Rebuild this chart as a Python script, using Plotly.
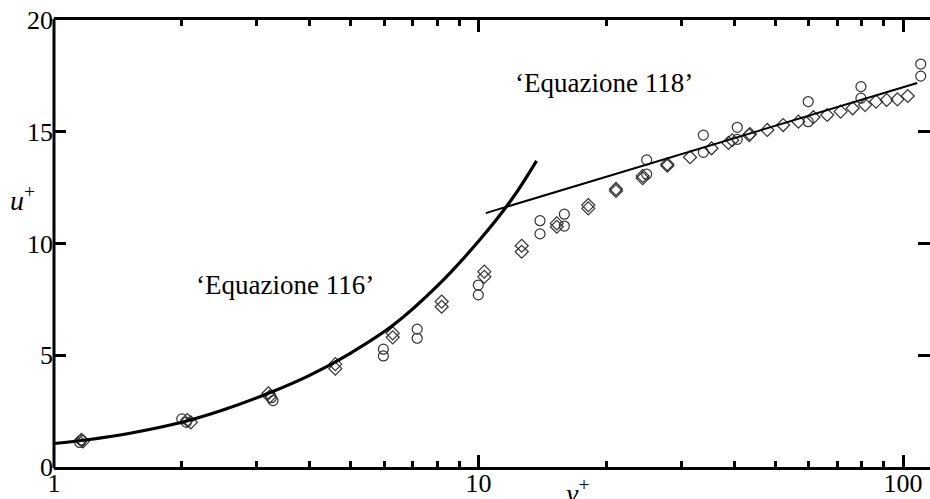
import plotly.graph_objects as go

# Equazione 116 (viscous sublayer curve)
eq116_x = [1.0, 1.2, 1.5, 2.0, 2.5, 3.2, 4.0, 5.0, 6.3, 8.0, 10.0, 12.0, 13.7]
eq116_y = [1.05, 1.22, 1.5, 2.0, 2.55, 3.3, 4.1, 5.1, 6.35, 8.1, 10.1, 12.0, 13.7]

# Equazione 118 (log law)
eq118_x = [10.4, 108.0]
eq118_y = [11.36, 17.18]

# circle markers
circ_x = [1.15, 1.16, 2.0, 2.05, 3.25, 3.28, 5.97, 5.97, 7.17, 7.17, 9.99, 9.99,
          13.96, 13.96, 15.93, 15.93, 24.9, 24.9, 33.86, 33.86, 40.7, 40.7,
          59.8, 59.8, 79.6, 79.6, 110.1, 110.1]
circ_y = [1.1, 1.2, 2.15, 2.0, 3.1, 2.97, 5.27, 4.97, 6.17, 5.76, 8.14, 7.70,
          11.02, 10.43, 11.31, 10.78, 13.74, 13.10, 14.85, 14.08, 15.2, 14.66,
          16.35, 15.45, 17.02, 16.50, 18.03, 17.49]

# diamond markers
diam_x = [1.16, 1.17, 2.06, 2.1, 3.2, 3.22, 4.6, 4.6, 6.28, 6.28, 8.19, 8.19,
          10.32, 10.32, 12.64, 12.64, 15.29, 15.29, 18.14, 18.14, 21.08, 21.08,
          24.36, 24.36, 27.85, 27.85, 31.5, 35.4, 38.8, 39.6, 43.4, 43.6, 47.9,
          52.2, 56.7, 61.5, 66.3, 71.3, 76.1, 81.4, 86.4, 91.5, 97.0, 102.6]
diam_y = [1.22, 1.15, 2.1, 2.0, 3.3, 3.15, 4.6, 4.4, 5.98, 5.80, 7.40, 7.17,
          8.74, 8.51, 9.90, 9.63, 10.90, 10.75, 11.72, 11.57, 12.44, 12.35,
          13.02, 12.92, 13.48, 13.55, 13.86, 14.26, 14.5, 14.62, 14.85, 14.9, 15.08,
          15.30, 15.45, 15.65, 15.75, 15.90, 16.05, 16.20, 16.35, 16.42, 16.45, 16.60]

y_ticks = [0, 5, 10, 15, 20]
x_ticks = [1, 10, 100]

FONT = "Liberation Serif"
mk_line = dict(color="#333333", width=1.2)

fig = go.Figure()
fig.add_trace(go.Scatter(x=circ_x, y=circ_y, mode="markers",
                         marker=dict(symbol="circle-open", size=10, line=mk_line, color="#333333")))
fig.add_trace(go.Scatter(x=diam_x, y=diam_y, mode="markers",
                         marker=dict(symbol="diamond-open", size=10, line=mk_line, color="#333333")))
fig.add_trace(go.Scatter(x=eq116_x, y=eq116_y, mode="lines",
                         line=dict(color="black", width=3.2, shape="spline")))
fig.add_trace(go.Scatter(x=eq118_x, y=eq118_y, mode="lines",
                         line=dict(color="black", width=2)))

fig.update_layout(
    width=930, height=499,
    margin=dict(l=54, r=0, t=20, b=32),
    paper_bgcolor="white", plot_bgcolor="white",
    showlegend=False,
    font=dict(family=FONT, size=26, color="black"),
    xaxis=dict(type="log", range=[0, 2.0636], automargin=False,
               tickvals=x_ticks, ticktext=[str(v) for v in x_ticks],
               ticks="inside", ticklen=12, tickwidth=2.5, tickcolor="black",
               ticklabelstandoff=-9,
               showline=True, linewidth=3, linecolor="black", mirror="allticks",
               showgrid=False, zeroline=False,
               minor=dict(ticks="inside", ticklen=6, tickwidth=2.5, tickcolor="black",
                          dtick="D1", showgrid=False),
               tickfont=dict(family=FONT, size=26)),
    yaxis=dict(range=[0, 20], tickvals=y_ticks, automargin=False,
               ticks="inside", ticklen=12, tickwidth=2.5, tickcolor="black",
               showline=False, mirror="ticks",
               showgrid=False, zeroline=False,
               tickfont=dict(family=FONT, size=26)),
    shapes=[dict(type="line", xref="paper", yref="paper", x0=0, x1=0, y0=-0.003, y1=1.003,
                 line=dict(color="black", width=3))],
    annotations=[
        dict(x=0.543, y=8.14, xref="x", yref="y", text="‘Equazione 116’", showarrow=False,
             font=dict(family=FONT, size=27), xanchor="center", yanchor="middle"),
        dict(x=1.2957, y=17.18, xref="x", yref="y", text="‘Equazione 118’", showarrow=False,
             font=dict(family=FONT, size=27), xanchor="center", yanchor="middle"),
        dict(x=-0.0365, y=0.60, xref="paper", yref="paper", text="<i>u</i><sup>+</sup>",
             showarrow=False, font=dict(family=FONT, size=28), xanchor="center", yanchor="middle"),
        dict(x=0.597, y=-0.055, xref="paper", yref="paper", text="<i>y</i><sup>+</sup>",
             showarrow=False, font=dict(family=FONT, size=28), xanchor="center", yanchor="middle"),
    ],
)

fig.write_html("out.html")
